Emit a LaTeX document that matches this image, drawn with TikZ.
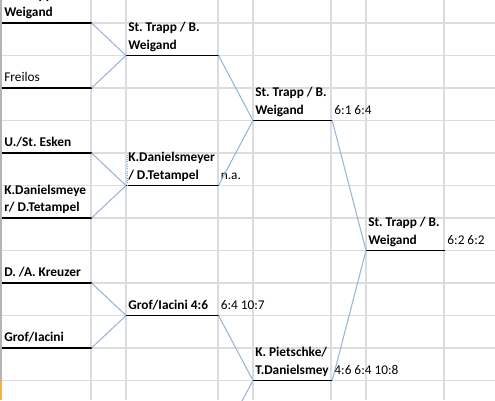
\documentclass[tikz,border=0pt]{standalone}
\usepackage{fontspec}
\setmainfont{Carlito}
\usetikzlibrary{positioning}
\definecolor{gridgray}{HTML}{DADCDD}
\definecolor{edgegray}{HTML}{B4B4B4}
\definecolor{bracketblue}{HTML}{95B3D7}
\definecolor{markorange}{HTML}{F0B43C}
\newcommand{\cellfont}{\fontsize{10}{13}\selectfont}

\begin{document}
\begin{tikzpicture}[
  x=0.75pt, y=-0.75pt,
  team/.style={anchor=south west,align=left,inner xsep=1.5pt,inner ysep=1pt,
    font=\cellfont\bfseries,
    execute at begin node={\spaceskip=2.2pt\xspaceskip=2.2pt},
    execute at end node={\rule[-3.5pt]{0pt}{3.5pt}}},
  bye/.style={team,font=\cellfont},
  score/.style={team,font=\cellfont},
  first/.style={text width=63.75pt},
  second/.style={text width=66pt},
  late/.style={text width=56pt},
  grid/.style={gridgray,line width=0.8pt},
  winner/.style={black,line width=1.4pt},
  link/.style={bracketblue,line width=0.75pt}
]
  \fill[white] (0,0) rectangle (495,400);
  \useasboundingbox (0,0) rectangle (495,400);

  % sheet grid
  \foreach \gx in {91,126,218,253,331,366,444}
    \draw[grid] (\gx,0) -- (\gx,400);
  \foreach \k in {0,...,11}
    \draw[grid] (0,{23+32.5*\k}) -- (495,{23+32.5*\k});
  \draw[edgegray,line width=1pt] (1,0) -- (1,400);
  \draw[markorange,line width=1.5pt] (1,381) -- (1,400);

  % round 1
  \node[team,first] (r1a) at (2,23) {St. Trapp / B.\\Weigand};
  \node[bye,first] (r1b) at (2,88) {Freilos};
  \node[team,first] (r1c) at (2,153) {U./St. Esken};
  \node[team,first] (r1d) at (2,218) {K.Danielsmeye\\r/ D.Tetampel};
  \node[team,first] (r1e) at (2,283) {D. /A. Kreuzer};
  \node[team,first] (r1f) at (2,348) {Grof/Iacini};

  % round 2
  \node[team,second] (r2a) at (126,55.5) {St. Trapp / B.\\Weigand};
  \node[team,second] (r2b) at (126,185.5) {K.Danielsmeyer\\/ D.Tetampel};
  \node[team,second] (r2c) at (126,315.5) {Grof/Iacini 4:6};
  \coordinate (r2d) at (218,445.5);

  % round 3 and final
  \node[team,late] (r3a) at (253,120.5) {St. Trapp / B.\\Weigand};
  \node[team,late] (r3b) at (253,380.5) {K. Pietschke/\\T.Danielsmey};
  \node[team,late] (r4a) at (366,250.5) {St. Trapp / B.\\Weigand};

  % results
  \node[score] (s2b) at (r2b.south east) {n.a.};
  \node[score] (s2c) at (r2c.south east) {6:4 10:7};
  \node[score] (s3a) at (r3a.south east) {6:1 6:4};
  \node[score] (s3b) at (r3b.south east) {4:6 6:4 10:8};
  \node[score] (s4a) at (r4a.south east) {6:2 6:2};

  % underlines
  \foreach \n in {r1a,r1b,r1c,r1d,r1e,r1f,r2a,r2b,r2c,r3a,r3b,r4a}
    \draw[winner] (\n.south west) -- (\n.south east);

  % bracket lines
  \draw[link] (r1a.south east) -- (r2a.south west);
  \draw[link] (r1b.south east) -- (r2a.south west);
  \draw[link] (r1c.south east) -- (r2b.south west);
  \draw[link] (r1d.south east) -- (r2b.south west);
  \draw[link] (r1e.south east) -- (r2c.south west);
  \draw[link] (r1f.south east) -- (r2c.south west);
  \draw[link] (r2a.south east) -- (r3a.south west);
  \draw[link] (r2b.south east) -- (r3a.south west);
  \draw[link] (r2c.south east) -- (r3b.south west);
  \draw[link] (r2d) -- (r3b.south west);
  \draw[link] (r3a.south east) -- (r4a.south west);
  \draw[link] (r3b.south east) -- (r4a.south west);
  \draw[link,densely dotted] ([xshift=0.75pt]r2b.south west) -- ++(0,-31);
\end{tikzpicture}
\end{document}
